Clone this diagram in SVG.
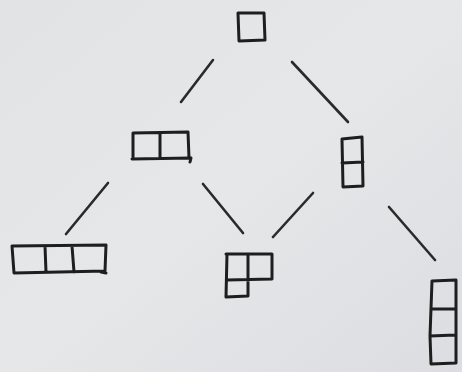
<svg xmlns="http://www.w3.org/2000/svg" width="462" height="372" viewBox="0 0 462 372">
<defs>
<style>
.c{fill:none;stroke:#1e1e1e;stroke-width:3;stroke-linecap:round;stroke-linejoin:round}
.e{fill:none;stroke:#2a2a2a;stroke-width:2.6;stroke-linecap:round}
</style>
<linearGradient id="bg" x1="0" y1="0" x2="1" y2="1">
<stop offset="0" stop-color="#e2e3e5"/>
<stop offset="0.5" stop-color="#e6e7e9"/>
<stop offset="1" stop-color="#dcdde0"/>
</linearGradient>
</defs>
<rect width="462" height="372" fill="url(#bg)"/>
<g id="connectors">
<line class="e" x1="213" y1="60" x2="181" y2="102"/>
<line class="e" x1="292" y1="62" x2="348" y2="122"/>
<line class="e" x1="108" y1="183" x2="66" y2="234"/>
<line class="e" x1="203" y1="184" x2="243" y2="233"/>
<line class="e" x1="313" y1="193" x2="273" y2="237"/>
<line class="e" x1="389" y1="207" x2="435" y2="260"/>
</g>
<g id="n1">
<path class="c" d="M238 13 L264 13 L265 40 L239 41 Z"/>
</g>
<g id="n2">
<path class="c" d="M133 133 L188 132 L189 158 M133 133 L133 157 M160 133 L160 158 M132 159 L191 158 L190 162"/>
</g>
<g id="n3">
<path class="c" d="M342 139 L362 137 L363 186 L343 187 Z M342 163 L363 162"/>
</g>
<g id="n4">
<path class="c" d="M12 246 L106 245 L105 271 L14 273 Z M45 246 L46 272 M72 246 L74 272 M101 272 L106 273"/>
</g>
<g id="n5">
<path class="c" d="M226 254 L272 254 L272 279 L227 280 M227 254 L226 297 L248 296 L248 255"/>
</g>
<g id="n6">
<path class="c" d="M432 281 L456 280 L456 363 L431 364 L430 336 Z M432 281 L430 336 M431 309 L455 309 M430 336 L455 335"/>
</g>
</svg>
